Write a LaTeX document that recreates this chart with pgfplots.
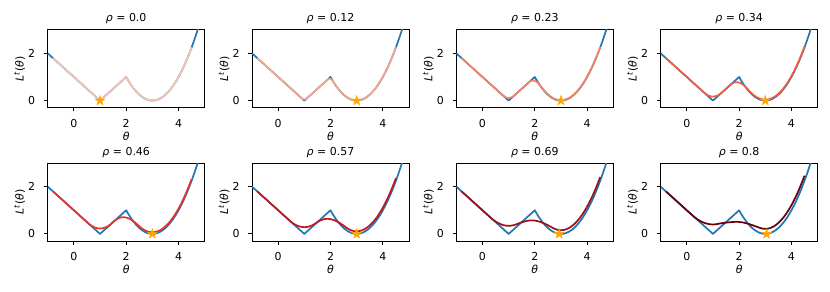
\documentclass[border=0pt]{standalone}
\usepackage{fontspec}
\setmainfont{DejaVu Sans}
\usepackage{pgfplots}
\usepackage{pgfplotstable}
\pgfplotsset{compat=1.18}

\definecolor{mblue}{HTML}{1F77B4}
\definecolor{rA}{HTML}{F8C6B1}
\definecolor{rB}{HTML}{FCA689}
\definecolor{rC}{HTML}{FC8161}
\definecolor{rD}{HTML}{F75A40}
\definecolor{rE}{HTML}{E63228}
\definecolor{rF}{HTML}{C4161C}
\definecolor{rG}{HTML}{A00E14}
\definecolor{rH}{HTML}{67000D}
\definecolor{starc}{HTML}{FFA500}

\pgfdeclareplotmark{fstar}{%
  \pgfpathmoveto{\pgfpointpolar{90}{\pgfplotmarksize}}%
  \pgfpathlineto{\pgfpointpolar{126}{0.382\pgfplotmarksize}}%
  \pgfpathlineto{\pgfpointpolar{162}{\pgfplotmarksize}}%
  \pgfpathlineto{\pgfpointpolar{198}{0.382\pgfplotmarksize}}%
  \pgfpathlineto{\pgfpointpolar{234}{\pgfplotmarksize}}%
  \pgfpathlineto{\pgfpointpolar{270}{0.382\pgfplotmarksize}}%
  \pgfpathlineto{\pgfpointpolar{306}{\pgfplotmarksize}}%
  \pgfpathlineto{\pgfpointpolar{342}{0.382\pgfplotmarksize}}%
  \pgfpathlineto{\pgfpointpolar{18}{\pgfplotmarksize}}%
  \pgfpathlineto{\pgfpointpolar{54}{0.382\pgfplotmarksize}}%
  \pgfpathclose
  \pgfusepathqfillstroke
}

% original loss L(theta)
\pgfplotstableread{
x y
-1.0 2.0
1.0 0.0
2.0 1.0
2.1 0.81
2.2 0.64
2.3 0.49
2.4 0.36
2.5 0.25
2.6 0.16
2.7 0.09
2.8 0.04
2.9 0.01
3.0 0.0
3.1 0.01
3.2 0.04
3.3 0.09
3.4 0.16
3.5 0.25
3.6 0.36
3.7 0.49
3.8 0.64
3.9 0.81
4.0 1.0
4.1 1.21
4.2 1.44
4.3 1.69
4.4 1.96
4.5 2.25
4.6 2.56
4.7 2.89
4.8 3.24
}\tBlue

% rho = 0.0
\pgfplotstableread{
x y
-0.8 1.8
1.0 0.0
2.0 1.0
2.1 0.81
2.2 0.64
2.3 0.49
2.4 0.36
2.5 0.25
2.6 0.16
2.7 0.09
2.8 0.04
2.9 0.01
3.0 0.0
3.1 0.01
3.2 0.04
3.3 0.09
3.4 0.16
3.5 0.25
3.6 0.36
3.7 0.49
3.8 0.64
3.9 0.81
4.0 1.0
4.1 1.21
4.2 1.44
4.3 1.69
4.4 1.96
4.5 2.25
}\tA

% rho = 0.12
\pgfplotstableread{
x y
-0.8 1.8
0.8 0.2
0.9 0.1009
0.95 0.0681
1.0 0.0571
1.05 0.0681
1.1 0.1009
1.2 0.2
1.8 0.8
1.9 0.8987
2.0 0.9165
2.1 0.8131
2.2 0.6444
2.3 0.4944
2.4 0.3644
2.5 0.2544
2.6 0.1644
2.7 0.0944
2.8 0.0444
2.9 0.0144
3.0 0.0044
3.1 0.0144
3.2 0.0444
3.3 0.0944
3.4 0.1644
3.5 0.2544
3.6 0.3644
3.7 0.4944
3.8 0.6444
3.9 0.8144
4.0 1.0044
4.1 1.2144
4.2 1.4444
4.3 1.6944
4.4 1.9644
4.5 2.2544
}\tB

% rho = 0.23
\pgfplotstableread{
x y
-0.8 1.8
0.7 0.3
0.8 0.2018
0.9 0.1362
1.0 0.1143
1.1 0.1362
1.2 0.2018
1.3 0.3
1.7 0.7
1.8 0.7973
1.9 0.8473
2.0 0.8373
2.1 0.7716
2.2 0.6547
2.3 0.5074
2.4 0.3774
2.5 0.2674
2.6 0.1774
2.7 0.1074
2.8 0.0574
2.9 0.0274
3.0 0.0174
3.1 0.0274
3.2 0.0574
3.3 0.1074
3.4 0.1774
3.5 0.2674
3.6 0.3774
3.7 0.5074
3.8 0.6574
3.9 0.8274
4.0 1.0174
4.1 1.2274
4.2 1.4574
4.3 1.7074
4.4 1.9774
4.5 2.2674
}\tC

% rho = 0.34
\pgfplotstableread{
x y
-0.8 1.8
0.6 0.4
0.7 0.3027
0.8 0.2298
0.9 0.1860
1.0 0.1714
1.1 0.1860
1.2 0.2298
1.3 0.3027
1.4 0.4
1.5 0.5
1.6 0.6
1.7 0.6960
1.8 0.7568
1.9 0.7779
2.0 0.7624
2.1 0.7132
2.2 0.6331
2.3 0.5251
2.4 0.3992
2.5 0.2892
2.6 0.1992
2.7 0.1292
2.8 0.0792
2.9 0.0492
3.0 0.0392
3.1 0.0492
3.2 0.0792
3.3 0.1292
3.4 0.1992
3.5 0.2892
3.6 0.3992
3.7 0.5292
3.8 0.6792
3.9 0.8492
4.0 1.0392
4.1 1.2492
4.2 1.4792
4.3 1.7292
4.4 1.9992
4.5 2.2892
}\tD

% rho = 0.46
\pgfplotstableread{
x y
-0.8 1.8
0.5 0.5
0.6 0.4036
0.7 0.3270
0.8 0.2723
0.9 0.2395
1.0 0.2286
1.1 0.2395
1.2 0.2723
1.3 0.3270
1.4 0.4036
1.5 0.5
1.6 0.5947
1.7 0.6609
1.8 0.6977
1.9 0.7073
2.0 0.6920
2.1 0.6538
2.2 0.5950
2.3 0.5177
2.4 0.4242
2.5 0.3197
2.6 0.2297
2.7 0.1597
2.8 0.1097
2.9 0.0797
3.0 0.0697
3.1 0.0797
3.2 0.1097
3.3 0.1597
3.4 0.2297
3.5 0.3197
3.6 0.4297
3.7 0.5597
3.8 0.7097
3.9 0.8797
4.0 1.0697
4.1 1.2797
4.2 1.5097
4.3 1.7597
4.4 2.0297
4.5 2.3197
}\tE

% rho = 0.57
\pgfplotstableread{
x y
-0.8 1.8
0.4 0.6
0.5 0.5045
0.6 0.4257
0.7 0.3645
0.8 0.3207
0.9 0.2945
1.0 0.2857
1.1 0.2945
1.2 0.3207
1.3 0.3645
1.4 0.4257
1.5 0.4979
1.6 0.5629
1.7 0.6091
1.8 0.6339
1.9 0.6389
2.0 0.6259
2.1 0.5966
2.2 0.5528
2.3 0.4963
2.4 0.4288
2.5 0.3520
2.6 0.2688
2.7 0.1988
2.8 0.1488
2.9 0.1188
3.0 0.1088
3.1 0.1188
3.2 0.1488
3.3 0.1988
3.4 0.2688
3.5 0.3588
3.6 0.4688
3.7 0.5988
3.8 0.7488
3.9 0.9188
4.0 1.1088
4.1 1.3188
4.2 1.5488
4.3 1.7988
4.4 2.0688
4.5 2.3588
}\tF

% rho = 0.69
\pgfplotstableread{
x y
-0.8 1.8
0.3 0.7
0.4 0.6054
0.5 0.5252
0.6 0.4595
0.7 0.4085
0.8 0.3720
0.9 0.3502
1.0 0.3429
1.1 0.3502
1.2 0.3720
1.3 0.4085
1.4 0.4516
1.5 0.4890
1.6 0.5217
1.7 0.5512
1.8 0.5698
1.9 0.5736
2.0 0.5641
2.1 0.5427
2.2 0.5108
2.3 0.4701
2.4 0.4218
2.5 0.3675
2.6 0.3085
2.7 0.2467
2.8 0.1967
2.9 0.1667
3.0 0.1567
3.1 0.1667
3.2 0.1967
3.3 0.2467
3.4 0.3167
3.5 0.4067
3.6 0.5167
3.7 0.6467
3.8 0.7967
3.9 0.9667
4.0 1.1567
4.1 1.3667
4.2 1.5967
4.3 1.8467
4.4 2.1167
4.5 2.4067
}\tG

% rho = 0.8
\pgfplotstableread{
x y
-0.8 1.8
0.2 0.8
0.3 0.7063
0.4 0.625
0.5 0.5563
0.6 0.5
0.7 0.4563
0.8 0.425
0.9 0.4063
1.0 0.4
1.1 0.4063
1.2 0.425
1.3 0.4471
1.4 0.4642
1.5 0.4775
1.6 0.4883
1.7 0.4979
1.8 0.5075
1.9 0.5121
2.0 0.5067
2.1 0.4925
2.2 0.4708
2.3 0.4429
2.4 0.41
2.5 0.3733
2.6 0.3342
2.7 0.2938
2.8 0.2533
2.9 0.2233
3.0 0.2133
3.1 0.2233
3.2 0.2533
3.3 0.3033
3.4 0.3733
3.5 0.4633
3.6 0.5733
3.7 0.7033
3.8 0.8533
3.9 1.0233
4.0 1.2133
4.1 1.4233
4.2 1.6533
4.3 1.9033
4.4 2.1733
4.5 2.4633
}\tH

\pgfplotsset{
  myax/.style={
    scale only axis, width=157bp, height=78bp,
    xmin=-1, xmax=5, ymin=-0.3, ymax=3,
    xtick={0,2,4}, ytick={0,2},
    tick align=outside, tick pos=left,
    major tick length=3.8bp,
    every tick/.style={black, line width=0.9bp},
    axis line style={line width=0.9bp},
    tick label style={font=\fontsize{11}{13}\selectfont, inner sep=0pt},
    xticklabel style={anchor=north, yshift=-7.5bp},
    yticklabel style={anchor=east, xshift=-8.5bp},
    /pgf/number format/assume math mode=true,
    xlabel={\textit{θ}},
    ylabel={\textit{L}\textsuperscript{\textit{t}}(\textit{θ})},
    label style={font=\fontsize{11}{13}\selectfont, inner sep=0pt},
    xlabel style={at={(axis description cs:0.5,0)}, anchor=north, yshift=-24bp},
    ylabel style={at={(axis description cs:-0.178,0.5)}, anchor=center},
    title style={at={(axis description cs:0.5,1)}, anchor=base, yshift=2bp, inner sep=0pt, font=\fontsize{11}{13}\selectfont},
  }
}

\newcommand{\panel}[6]{%
  \begin{axis}[myax, at={(#1,#2)}, anchor=south west, title={\textit{ρ} = #3}]
    \addplot[only marks, mark=fstar, mark size=5.2bp, draw=starc, fill=starc] coordinates {(#6,0)};
    \addplot[mblue, line width=1.7bp, line join=round] table {\tBlue};
    \addplot[#5, line width=1.7bp, line join=round] table {#4};
  \end{axis}%
}

\begin{document}
\begin{tikzpicture}[x=1bp,y=1bp]
  \useasboundingbox (0,0) rectangle (830,291);
  \panel{47.7bp}{183.3bp}{0.0}{\tA}{rA}{1}
  \panel{252bp}{183.3bp}{0.12}{\tB}{rB}{3}
  \panel{456.3bp}{183.3bp}{0.23}{\tC}{rC}{3}
  \panel{660.6bp}{183.3bp}{0.34}{\tD}{rD}{3}
  \panel{47.7bp}{50bp}{0.46}{\tE}{rE}{3}
  \panel{252bp}{50bp}{0.57}{\tF}{rF}{3}
  \panel{456.3bp}{50bp}{0.69}{\tG}{rG}{2.93}
  \panel{660.6bp}{50bp}{0.8}{\tH}{rH}{3.05}
\end{tikzpicture}
\end{document}
